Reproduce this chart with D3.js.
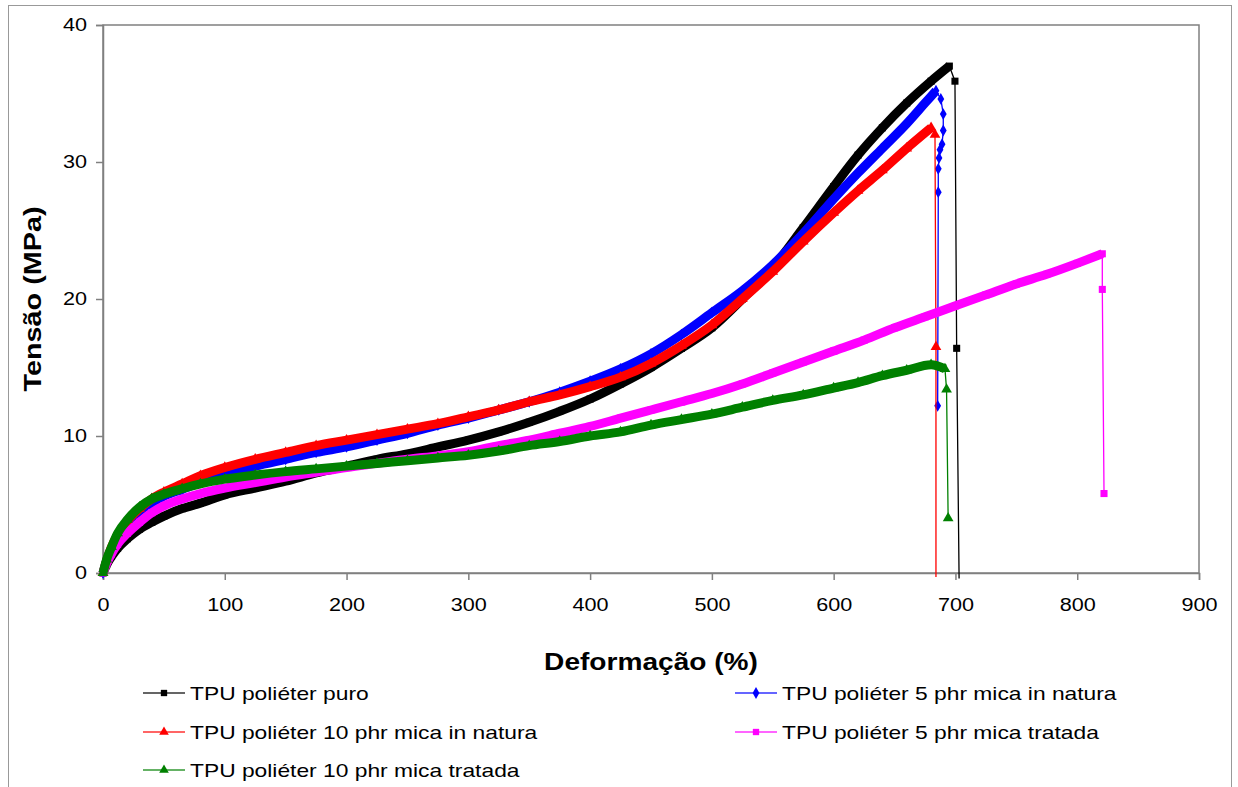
<!DOCTYPE html>
<html>
<head>
<meta charset="utf-8">
<script src="https://d3js.org/d3.v7.min.js"></script>
<style>
  body { margin: 0; background: #fff; }
  svg text { font-family: "Liberation Sans", Arial, sans-serif; fill: #000; }
</style>
</head>
<body>
<svg width="1238" height="787"></svg>
<script>
// tick values
var xTicks = [0, 100, 200, 300, 400, 500, 600, 700, 800, 900];
var yTicks = [0, 10, 20, 30, 40];

// TPU poliéter puro - [deformação %, tensão MPa]
var puro = [[0,0],[3,0.6],[7,1.2],[12,1.8],[20,2.5],[30,3.2],[40,3.7],[50,4.15],[65,4.7],[80,5.1],[100,5.7],
  [125,6.2],[150,6.7],[175,7.3],[200,7.8],[225,8.3],[250,8.7],[275,9.2],[300,9.7],[325,10.3],[350,11.0],
  [375,11.8],[400,12.7],[425,13.8],[450,15.0],[475,16.4],[500,17.9],[525,20.0],[550,22.3],[575,25.2],
  [600,28.2],[620,30.5],[640,32.5],[660,34.3],[680,35.9],[695,37.0]];
var puroBreak = [[695,37.0],[699.6,35.9],[701,16.4],[703,-0.4]];

// TPU poliéter 5 phr mica in natura
var natura5 = [[0,0],[3,0.9],[7,1.8],[12,2.7],[20,3.7],[30,4.5],[40,5.1],[50,5.6],[65,6.1],[80,6.6],[100,7.2],
  [125,7.8],[150,8.3],[175,8.8],[200,9.2],[225,9.7],[250,10.2],[275,10.8],[300,11.3],[325,11.9],[350,12.5],
  [375,13.2],[400,14.0],[425,14.9],[450,16.0],[475,17.4],[500,19.0],[525,20.6],[550,22.5],[575,24.8],
  [600,27.3],[620,29.2],[640,31.0],[660,32.8],[675,34.3],[684,35.2]];
var natura5Break = [[684,35.2],[688,34.6],[690,33.5],[690,32.3],[689,31.3],[687.3,30.9],[686.5,30.3],
  [685.9,29.5],[685.9,27.8],[685.4,12.2]];

// TPU poliéter 10 phr mica in natura
var natura10 = [[0,0],[3,0.9],[7,1.9],[12,2.8],[20,3.8],[30,4.7],[40,5.4],[50,5.9],[65,6.5],[80,7.1],[100,7.7],
  [125,8.3],[150,8.8],[175,9.3],[200,9.7],[225,10.1],[250,10.5],[275,10.9],[300,11.4],[325,11.9],[350,12.5],
  [375,13.0],[400,13.6],[425,14.3],[450,15.3],[475,16.6],[500,18.1],[525,20.0],[550,22.0],[575,24.2],
  [600,26.3],[620,27.9],[640,29.4],[660,31.0],[680,32.5]];
var natura10Break = [[680,32.5],[683.2,32.0],[684,16.5],[684,-0.3]];

// TPU poliéter 5 phr mica tratada
var tratada5 = [[0,0],[3,0.7],[7,1.4],[12,2.1],[20,2.9],[30,3.7],[40,4.4],[50,4.9],[65,5.4],[80,5.8],[100,6.2],
  [125,6.6],[150,7.0],[175,7.35],[200,7.7],[225,8.0],[250,8.3],[275,8.55],[300,8.85],[325,9.3],[350,9.7],
  [375,10.2],[400,10.7],[425,11.3],[450,11.9],[475,12.5],[500,13.1],[525,13.8],[550,14.6],[575,15.4],
  [600,16.2],[625,17.0],[650,17.9],[675,18.7],[700,19.5],[725,20.3],[750,21.1],[775,21.8],[800,22.6],[820.6,23.3]];
var tratada5Break = [[820.6,23.3],[820.6,20.7],[822,5.8]];

// TPU poliéter 10 phr mica tratada
var tratada10 = [[0,0],[3,1.0],[7,1.9],[12,2.9],[20,3.9],[30,4.8],[40,5.4],[50,5.75],[65,6.15],[80,6.5],[100,6.85],
  [125,7.15],[150,7.4],[175,7.6],[200,7.8],[225,8.0],[250,8.2],[275,8.4],[300,8.6],[325,8.9],[350,9.3],
  [375,9.6],[400,10.0],[425,10.3],[450,10.8],[475,11.2],[500,11.6],[525,12.1],[550,12.6],[575,13.0],
  [600,13.5],[620,13.9],[640,14.4],[660,14.8],[680,15.2],[691.4,14.9]];
var tratada10Break = [[691.4,14.9],[692.7,13.4],[694,4.0]];

var seriesNames = ["TPU poliéter puro", "TPU poliéter 5 phr mica in natura", "TPU poliéter 10 phr mica in natura",
  "TPU poliéter 5 phr mica tratada", "TPU poliéter 10 phr mica tratada"];
var seriesColors = ["#000000", "#0000ff", "#ff0000", "#ff00ff", "#008000"];

var series = [
  {name: seriesNames[0], color: seriesColors[0], sym: d3.symbolSquare, size: 50, main: puro, brk: puroBreak},
  {name: seriesNames[1], color: seriesColors[1], sym: d3.symbolDiamond, size: 40, main: natura5, brk: natura5Break},
  {name: seriesNames[2], color: seriesColors[2], sym: d3.symbolTriangle, size: 50, main: natura10, brk: natura10Break},
  {name: seriesNames[3], color: seriesColors[3], sym: d3.symbolSquare, size: 50, main: tratada5, brk: tratada5Break},
  {name: seriesNames[4], color: seriesColors[4], sym: d3.symbolTriangle, size: 50, main: tratada10, brk: tratada10Break}
];

var svg = d3.select("svg");

//stretch text horizontally, the original labels are wider than Arial
function stretch(sel, k) {
  sel.each(function() {
    var w = this.getComputedTextLength();
    d3.select(this).attr("textLength", w * k).attr("lengthAdjust", "spacingAndGlyphs");
  });
}

//outer chart frame
svg.append("rect").attr("x", 8.5).attr("y", 5.5).attr("width", 1223).attr("height", 800)
   .attr("fill", "none").attr("stroke", "#999").attr("stroke-width", 1);

var pLeft = 103, pTop = 25, pRight = 1199, pBottom = 573;
var xs = d3.scaleLinear().domain([0, 900]).range([pLeft, pRight]);
var ys = d3.scaleLinear().domain([0, 40]).range([pBottom, pTop]);

//plot area box
svg.append("rect").attr("x", pLeft).attr("y", pTop).attr("width", pRight - pLeft).attr("height", pBottom - pTop)
   .attr("fill", "none").attr("stroke", "#808080").attr("stroke-width", 1.5);

//axes
var yAxis = svg.append("g").attr("transform", "translate(" + pLeft + ",0)")
   .call(d3.axisLeft(ys).tickValues(yTicks).tickSize(7).tickPadding(9));
var xAxis = svg.append("g").attr("transform", "translate(0," + pBottom + ")")
   .call(d3.axisBottom(xs).tickValues(xTicks).tickSize(7).tickPadding(18));
[xAxis, yAxis].forEach(function(a) {
  a.selectAll("path").attr("stroke", "#808080").attr("stroke-width", 1.5);
  a.selectAll("line").attr("stroke", "#808080").attr("stroke-width", 1.5);
  a.attr("font-family", null).attr("font-size", null);
  a.selectAll("text").style("font-size", "18px");
  stretch(a.selectAll("text"), 1.2);
});

//axis titles
var xt = svg.append("text").attr("x", 651).attr("y", 670).attr("text-anchor", "middle")
   .style("font-size", "24px").style("font-weight", "bold").text("Deformação (%)");
var yt = svg.append("text").attr("transform", "translate(41,299) rotate(-90)").attr("text-anchor", "middle")
   .style("font-size", "24px").style("font-weight", "bold").text("Tensão (MPa)");
stretch(xt, 1.17);
stretch(yt, 1.2);

var band = d3.line().x(function(d) { return xs(d[0]); }).y(function(d) { return ys(d[1]); })
   .curve(d3.curveMonotoneX);
var thin = d3.line().x(function(d) { return xs(d[0]); }).y(function(d) { return ys(d[1]); });

series.forEach(function(s) {
  var g = svg.append("g");
  //thin line down at fracture
  g.append("path").attr("d", thin(s.brk)).attr("fill", "none")
   .attr("stroke", s.color).attr("stroke-width", 1.3);
  //dense marker band
  g.append("path").attr("d", band(s.main)).attr("fill", "none")
   .attr("stroke", s.color).attr("stroke-width", 9).attr("stroke-linejoin", "round");
  g.selectAll(".m").data(s.main).enter().append("path")
   .attr("transform", function(d) { return "translate(" + xs(d[0]) + "," + ys(d[1]) + ")"; })
   .attr("d", d3.symbol().type(s.sym).size(s.size)).attr("fill", s.color);
  g.selectAll(".b").data(s.brk.slice(1).filter(function(d) { return d[1] >= 0; })).enter().append("path")
   .attr("transform", function(d) { return "translate(" + xs(d[0]) + "," + ys(d[1]) + ")"; })
   .attr("d", d3.symbol().type(s.sym).size(s.size)).attr("fill", s.color);
});

//legend
var legPos = [[143, 693], [735, 693], [143, 732], [735, 732], [143, 770]];
series.forEach(function(s, i) {
  var lx = legPos[i][0], ly = legPos[i][1];
  svg.append("line").attr("x1", lx).attr("x2", lx + 42).attr("y1", ly).attr("y2", ly)
     .attr("stroke", s.color).attr("stroke-width", 2).attr("opacity", 0.6);
  svg.append("path").attr("transform", "translate(" + (lx + 21) + "," + ly + ")")
     .attr("d", d3.symbol().type(s.sym).size(40)).attr("fill", s.color);
  var t = svg.append("text").attr("x", lx + 47).attr("y", ly + 7).style("font-size", "19px").text(s.name);
  stretch(t, 1.2);
});
</script>
</body>
</html>
